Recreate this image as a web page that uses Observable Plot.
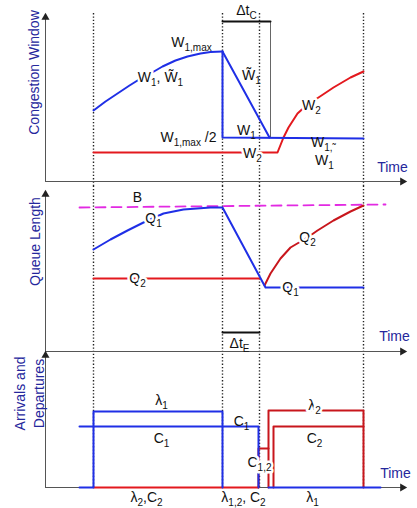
<!DOCTYPE html>
<html><head><meta charset="utf-8">
<script src="https://cdn.jsdelivr.net/npm/d3@7"></script>
<script src="https://cdn.jsdelivr.net/npm/@observablehq/plot@0.6"></script>
<style>
body{margin:0;background:#fff;}
#chart svg{display:block;}
</style></head><body><div id="chart"></div>
<script>
// ---- shared time axis (time units from the origin of the time axis) ----
const keyTimes = [48, 177, 214, 318];
const timeAxisEnd = 360;

// ---- Panel 1: congestion window ----
const w1Rise = [[48,71],[60,80],[72,88],[84,96],[92,101],[105,108],[117,115],[130,121],[142,125],[155,128],[165,129.5],[177,130]];
const w1TildeDrop = [[177,130],[224,44]];
const w1Drop = [[177,130],[177,44],[318,43]];
const w2Curve = [[48,29],[232,29],[238,44],[243,54],[252,68],[262,77],[273,84],[288,94],[305,104],[318,110]];
const dtCBar = [[177,160],[225,160]];
const dtCGuide = [[225,160],[225,44]];
const cwndAxisTop = 167;
const labels1 = [
  {t:146, v:139, s:"W_{1,max}", halo:false},
  {t:115, v:104, s:"W_{1}, W\u0303_{1}", halo:true},
  {t:143, v:44, s:"W_{1,max} /2", halo:false},
  {t:206, v:106, s:"W\u0303_{1}", halo:false},
  {t:266, v:76, s:"W_{2}", halo:true},
  {t:201, v:51, s:"W_{1}", halo:false},
  {t:207, v:28, s:"W_{2}", halo:true},
  {t:278, v:39, s:"W_{1,\u02dc}", halo:false},
  {t:279, v:21, s:"W_{1}", halo:false},
  {t:201, v:171, s:"\u0394t_{C}", halo:false}
];

// ---- Panel 2: queue length ----
const bufferB = [[34,144],[340,147]];
const q1Curve = [[48,102],[65,112],[82,121],[98,129],[118,138],[138,142],[165,144],[177,144],[220,64],[318,64]];
const q2Flat = [[48,73],[214,73]];
const q2Rise = [[219,66],[225,78],[235,93],[245,104],[262,114],[272,121],[288,131],[305,140],[318,146]];
const dtEBar = [[177,19],[214,19]];
const queueAxisTop = 160;
const labels2 = [
  {t:92, v:154, s:"B", halo:false},
  {t:108, v:133, s:"Q_{1}", halo:true},
  {t:92, v:73, s:"Q_{2}", halo:true},
  {t:245, v:64, s:"Q_{1}", halo:true},
  {t:262, v:114, s:"Q_{2}", halo:true},
  {t:194, v:8, s:"\u0394t_{E}", halo:false}
];

// ---- Panel 3: arrivals and departures ----
const lambda1 = [[34,0],[48,0],[48,76],[177,76],[177,0]];
const c1 = [[34,61],[213,61],[213,0]];
const lambda1After = [[223,0],[335,0]];
const flow2Zero = [[48,0],[213,0]];
const lambda2 = [[213,0],[213,39],[223,39],[223,77],[318,77],[318,0]];
const lambda2Low = [[223,39],[223,0]];
const c2 = [[228,0],[228,61],[318,61]];
const rateAxisTop = 135;
const labels3 = [
  {t:116, v:87, s:"\u03bb_{1}", halo:false},
  {t:116, v:49, s:"C_{1}", halo:false},
  {t:101, v:-10, s:"\u03bb_{2},C_{2}", halo:false},
  {t:196, v:66, s:"C_{1}", halo:false},
  {t:214, v:25, s:"C_{1,2}", halo:true},
  {t:198, v:-10, s:"\u03bb_{1,2}, C_{2}", halo:false},
  {t:267, v:-10, s:"\u03bb_{1}", halo:false},
  {t:269, v:82, s:"\u03bb_{2}", halo:true},
  {t:269, v:49, s:"C_{2}", halo:false}
];

// ---- styling ----
const BLUE = "#1f2fe6", RED = "#e3191e", DRED = "#c8161c", MAG = "#e22ae2";
const TITLE = "#25279c", AXIS = "#555";
const FONT = "Liberation Sans, Arial, sans-serif";

const fx = d => d[0], fy = d => d[1];
function ln(data, stroke, extra = {}) {
  return Plot.line(data, {x: fx, y: fy, stroke, strokeWidth: 2, ...extra});
}
function axes(top) {
  return [
    Plot.line([[0,0],[0,top]], {x: fx, y: fy, stroke: AXIS, strokeWidth: 1}),
    Plot.line([[0,0],[timeAxisEnd,0]], {x: fx, y: fy, stroke: AXIS, strokeWidth: 1}),
    Plot.dot([[0, top - 3]], {x: fx, y: fy, symbol: "triangle", r: 3, fill: "#222", stroke: null}),
    Plot.dot([[timeAxisEnd - 3, 0]], {x: fx, y: fy, symbol: "triangle", r: 3, fill: "#222", stroke: null, rotate: 90})
  ];
}
function dotted(y1, y2) {
  return Plot.ruleX(keyTimes, {y1, y2, stroke: "#222", strokeWidth: 1.4, strokeDasharray: "1.3,2"});
}
function labelMarks(labels) {
  return [
    Plot.text(labels.filter(d => d.halo), {x: "t", y: "v", text: "s", fill: "#111", fontSize: 14, fontFamily: FONT, stroke: "white", strokeWidth: 5}),
    Plot.text(labels.filter(d => !d.halo), {x: "t", y: "v", text: "s", fill: "#111", fontSize: 14, fontFamily: FONT})
  ];
}
function title(t, v, s, lineHeight = 1) {
  return Plot.text([{t, v, s}], {x: "t", y: "v", text: "s", fill: TITLE, fontSize: 14, fontFamily: FONT, rotate: -90, lineHeight});
}
function timeLabel(t, v) {
  return Plot.text([{t, v, s: "Time"}], {x: "t", y: "v", text: "s", fill: TITLE, fontSize: 14, fontFamily: FONT});
}
function base(height, ydom, marks) {
  return Plot.plot({
    width: 417, height,
    marginLeft: 45, marginRight: 0, marginTop: 0, marginBottom: 0,
    x: {domain: [0, 372], axis: null},
    y: {domain: ydom, axis: null},
    style: {fontFamily: FONT, background: "transparent", overflow: "visible"},
    marks
  });
}

const p1 = base(186, [-5, 181], [
  dotted(-5, 169),
  ...axes(cwndAxisTop),
  ln(dtCGuide, "#666", {strokeWidth: 1}),
  ln(dtCBar, "#111", {strokeWidth: 2}),
  ln(w2Curve, RED),
  ln(w1Drop, BLUE),
  ln(w1TildeDrop, BLUE),
  ln(w1Rise, BLUE),
  ...labelMarks(labels1),
  timeLabel(347, 14),
  title(-11, 109, "Congestion Window")
]);

const p2 = base(166, [-1, 165], [
  dotted(-1, 165),
  ...axes(queueAxisTop),
  ln(bufferB, MAG, {strokeWidth: 1.8, strokeDasharray: "10,6"}),
  ln(q2Flat, RED),
  ln(q2Rise, DRED),
  ln(q1Curve, BLUE),
  ln(dtEBar, "#111", {strokeWidth: 2}),
  ...labelMarks(labels2),
  timeLabel(349, 15),
  title(-10, 110, "Queue Length")
]);

const p3 = base(156, [-21, 135], [
  dotted(0, 135),
  ...axes(rateAxisTop),
  ln(flow2Zero, RED),
  ln(lambda2, DRED),
  ln(lambda2Low, DRED),
  ln(c2, DRED),
  ln(lambda1After, BLUE),
  ln(c1, BLUE),
  ln(lambda1, BLUE),
  ...labelMarks(labels3),
  timeLabel(350, 14),
  title(-17, 94, "Arrivals and\nDepartures", 1.35)
]);

// subscripts: turn "_{...}" into real subscript tspans
function subscripts(svg) {
  const ns = "http://www.w3.org/2000/svg";
  svg.querySelectorAll("text").forEach(el => {
    if (el.querySelector("tspan")) return;
    const s = el.textContent;
    if (!s.includes("_{")) return;
    const re = /_\{([^}]*)\}/g;
    const parts = [];
    let last = 0, m;
    while ((m = re.exec(s))) { parts.push([s.slice(last, m.index), false]); parts.push([m[1], true]); last = re.lastIndex; }
    parts.push([s.slice(last), false]);
    el.textContent = "";
    let shifted = false;
    for (const [str, sub] of parts) {
      if (!str) continue;
      const ts = document.createElementNS(ns, "tspan");
      ts.textContent = str;
      if (sub) { ts.setAttribute("font-size", "10"); if (!shifted) ts.setAttribute("dy", "4"); shifted = true; }
      else { if (shifted) ts.setAttribute("dy", "-4"); shifted = false; }
      el.appendChild(ts);
    }
  });
}
const holder = document.getElementById("chart");
for (const p of [p1, p2, p3]) { subscripts(p); holder.appendChild(p); }
</script></body></html>
